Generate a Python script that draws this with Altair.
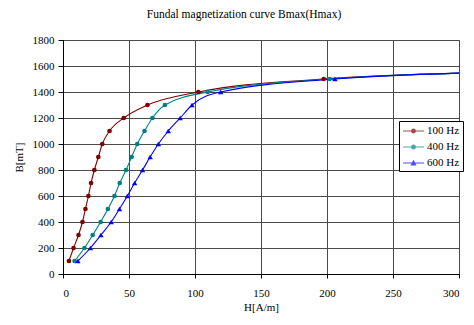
import altair as alt
import pandas as pd

# ---- data ----
SERIES = ["100 Hz", "400 Hz", "600 Hz"]
COLORS = ["#800000", "#008080", "#0000FF"]

B_LEVELS = [100, 200, 300, 400, 500, 600, 700, 800, 900, 1000, 1100, 1200, 1300, 1400, 1500]
H_100 = [4.5, 8, 11.75, 14.75, 17, 19.25, 21.25, 23.75, 26.75, 29.75, 35.25, 46, 64, 102.5, 197.5]
H_400 = [8.75, 16.25, 22.5, 28.5, 34, 39, 43, 47.75, 52, 56.25, 61.75, 67.75, 77.25, 109.5, 202]
H_600 = [11.25, 20.75, 28.75, 36.5, 42.75, 48.75, 54.25, 60.25, 66, 72.25, 79.75, 88.75, 97.75, 119.4, 206]

# curve continues (without markers) to the right edge of the plot
TAIL_H = [300, 300, 300]
TAIL_B = [1545, 1545, 1545]

X_TICKS = [0, 50, 100, 150, 200, 250, 300]
Y_TICKS = [0, 200, 400, 600, 800, 1000, 1200, 1400, 1600, 1800]

rows = []
for name, hs, th, tb in zip(SERIES, [H_100, H_400, H_600], TAIL_H, TAIL_B):
    for h, b in zip(hs, B_LEVELS):
        rows.append({"series": name, "H": h, "B": b, "marker": 1})
    rows.append({"series": name, "H": th, "B": tb, "marker": 0})
df = pd.DataFrame(rows)

FONT = "Liberation Serif"

# legend symbols: line segment + marker (custom paths, unit = 7 px)
LEG_CIRCLE = ("M-0.857,-0.07H2.143V0.07H-0.857Z "
              "M1.0,0A0.357,0.357 0 1,1 0.286,0A0.357,0.357 0 1,1 1.0,0Z")
LEG_TRI = ("M-0.857,-0.07H2.143V0.07H-0.857Z "
           "M0.643,-0.45L1.07,0.36L0.216,0.36Z")

color_scale = alt.Scale(domain=SERIES, range=COLORS)

axis_common = dict(
    labelFont=FONT, labelFontSize=11, labelColor="black",
    titleFont=FONT, titleFontSize=11, titleFontWeight="normal", titleColor="black",
    domainColor="black", tickColor="black", grid=True, gridColor="#4a4a4a",
    gridWidth=1, labelOverlap=False, format="d",
)

x_enc = alt.X("H:Q", scale=alt.Scale(domain=[0, 300], nice=False, zero=True),
              axis=alt.Axis(values=X_TICKS, title="H[A/m]", tickSize=4,
                            labelPadding=9, titlePadding=3, **axis_common))
y_enc = alt.Y("B:Q", scale=alt.Scale(domain=[0, 1800], nice=False, zero=True),
              axis=alt.Axis(values=Y_TICKS, title="B[mT]", tickSize=5,
                            labelPadding=4, titlePadding=8, **axis_common))
c_enc = alt.Color("series:N", scale=color_scale, legend=None)

base = alt.Chart(df)

lines = base.mark_line(interpolate="monotone", strokeWidth=1.1, clip=True).encode(
    x=x_enc, y=y_enc, color=c_enc,
)

circles = base.transform_filter(
    (alt.datum.marker == 1) & (alt.datum.series != "600 Hz")
).mark_circle(size=22, opacity=1).encode(x=x_enc, y=y_enc, color=c_enc)

triangles = base.transform_filter(
    (alt.datum.marker == 1) & (alt.datum.series == "600 Hz")
).mark_point(shape="triangle-up", filled=True, size=30, opacity=1).encode(
    x=x_enc, y=y_enc, color=c_enc)

legend_cfg = alt.Legend(
    title=None, orient="none", legendX=336, legendY=81,
    strokeColor="black", fillColor="white", padding=3,
    symbolSize=196, symbolStrokeWidth=0,
    labelFont=FONT, labelFontSize=11, labelColor="black",
    labelOffset=11, rowPadding=4, labelLimit=200,
)

# legend-only layer: no rows drawn, entries come from the explicit scale domains
legend_layer = base.transform_filter("false").mark_point(filled=True, size=196).encode(
    x=x_enc, y=y_enc,
    color=alt.Color("series:N", scale=color_scale, legend=legend_cfg),
    shape=alt.Shape("series:N",
                    scale=alt.Scale(domain=SERIES, range=[LEG_CIRCLE, LEG_CIRCLE, LEG_TRI]),
                    legend=legend_cfg),
)

chart = alt.layer(lines, circles, triangles, legend_layer).resolve_legend(
    color="independent", shape="independent"
).properties(
    width=396, height=234,
    title=alt.TitleParams(
        "Fundal magnetization curve Bmax(Hmax)", font=FONT, fontSize=11.5,
        fontWeight="normal", color="black", anchor="middle", dx=-17,
        offset=14,
    ),
    autosize=alt.AutoSizeParams(type="none"),
    padding={"left": 55, "top": 32, "right": 7, "bottom": 40},
).configure_view(
    stroke="#555555", strokeWidth=1
)

chart.save("out.html", embed_options={"renderer": "svg", "actions": False})
